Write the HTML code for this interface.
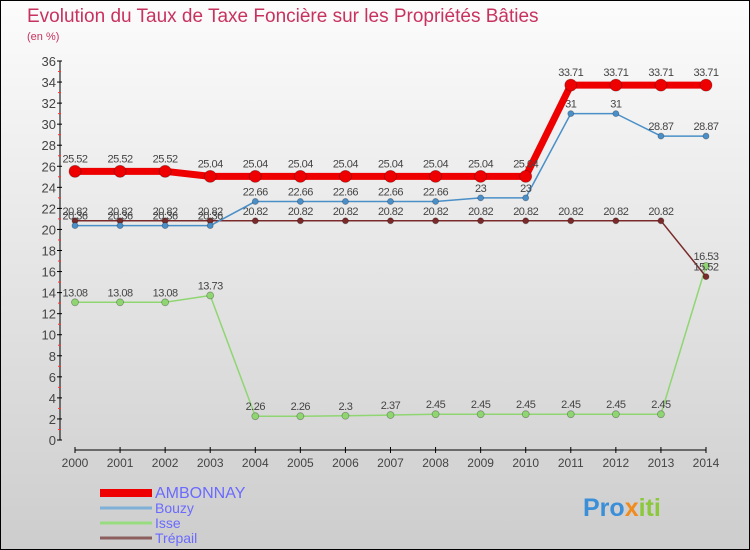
<!DOCTYPE html>
<html><head><meta charset="utf-8"><style>
body{margin:0}
#wrap{position:relative;width:748px;height:548px;border:1px solid #000;background:linear-gradient(#fcfcfc,#cdcdcd);overflow:hidden;font-family:"Liberation Sans","DejaVu Sans",sans-serif}
svg{position:absolute;left:-1px;top:-1px}
</style></head><body>
<div id="wrap">
<svg id="c" width="750" height="550"></svg>
</div>
<script>
const years=[2000,2001,2002,2003,2004,2005,2006,2007,2008,2009,2010,2011,2012,2013,2014];
const ambonnay=[25.52,25.52,25.52,25.04,25.04,25.04,25.04,25.04,25.04,25.04,25.04,33.71,33.71,33.71,33.71];
const bouzy=[20.36,20.36,20.36,20.36,22.66,22.66,22.66,22.66,22.66,23,23,31,31,28.87,28.87];
const isse=[13.08,13.08,13.08,13.73,2.26,2.26,2.3,2.37,2.45,2.45,2.45,2.45,2.45,2.45,16.53];
const trepail=[20.82,20.82,20.82,20.82,20.82,20.82,20.82,20.82,20.82,20.82,20.82,20.82,20.82,20.82,15.52];
const yTicks=[0,2,4,6,8,10,12,14,16,18,20,22,24,26,28,30,32,34,36];
const NS='http://www.w3.org/2000/svg';
const svg=document.getElementById('c');
const xs=i=>75+i*(706-75)/14;
const ys=v=>440-v*(440-61)/36;
function mk(t,a,p){const e=document.createElementNS(NS,t);for(const k in a)e.setAttribute(k,a[k]);(p||svg).appendChild(e);return e;}
let e;
e=mk('text',{x:27,y:22,'font-size':19,fill:'#c8325f'});e.textContent='Evolution du Taux de Taxe Foncière sur les Propriétés Bâties';

e=mk('text',{x:27,y:40,'font-size':11,fill:'#c8325f'});e.textContent='(en %)';

e=mk('line',{x1:60,y1:61,x2:60,y2:440,stroke:'#000','stroke-width':1});

yTicks.forEach(v=>{
 mk('line',{x1:57,x2:62,y1:ys(v),y2:ys(v),stroke:'#000'});
 if(v<36)mk('line',{x1:58,x2:61,y1:ys(v+1),y2:ys(v+1),stroke:'#f33'});
 const t=mk('text',{x:56,y:ys(v)+5,'font-size':13,fill:'#444','text-anchor':'end'});t.textContent=v;
 
});
e=mk('line',{x1:75,y1:450,x2:706,y2:450,stroke:'#000'});

years.forEach((y,i)=>{
 mk('line',{x1:xs(i),x2:xs(i),y1:447,y2:453,stroke:'#000'});
 const t=mk('text',{x:xs(i),y:467,'font-size':12,fill:'#444','text-anchor':'middle'});t.textContent=y;
 
});
function series(vals,color,w,r,name,lblOff){
 const g=mk('g',{});
 
 const pts=vals.map((v,i)=>xs(i)+','+ys(v)).join(' ');
 mk('polyline',{points:pts,fill:'none',stroke:color,'stroke-width':w,'stroke-linejoin':'round'},g);
 vals.forEach((v,i)=>{
  const c=mk('circle',{cx:xs(i),cy:ys(v),r:r,fill:color,stroke:'rgba(0,0,0,0.3)','stroke-width':0.8},g);
  
  const t=mk('text',{x:xs(i),y:ys(v)-lblOff,'font-size':11,fill:'#444','text-anchor':'middle','letter-spacing':'-0.5'},g);
  t.textContent=String(v);
 });
}
series(isse,'#8fd672',1.5,3.5,'isse',6);
series(trepail,'#7a2a2a',1.5,3,'trepail',6);
series(bouzy,'#4a8fc8',1.5,3,'bouzy',6);
series(ambonnay,'#ee0000',7,6,'ambonnay',9);
const leg=[['AMBONNAY','#ee0000',8,492],['Bouzy','#7fb0d8',3,507],['Isse','#98dc80',3,522],['Trépail','#8c5e5e',3,537]];
leg.forEach(l=>{
 const g=mk('g',{});
 
 mk('line',{x1:100,x2:152,y1:l[3]+1,y2:l[3]+1,stroke:l[1],'stroke-width':l[2]},g);
 const t=mk('text',{x:155,y:l[3]+6,'font-size':l[0]=='AMBONNAY'?16:14,fill:'#6a6aff'},g);t.textContent=l[0];
});
e=mk('text',{x:583,y:516,'font-size':25,'font-weight':'bold'});

[['Pro','#3a8fd8'],['x','#f08c1e'],['iti','#8cc83c']].forEach(p=>{const s=mk('tspan',{fill:p[1]},e);s.textContent=p[0];});
</script>
</body></html>
